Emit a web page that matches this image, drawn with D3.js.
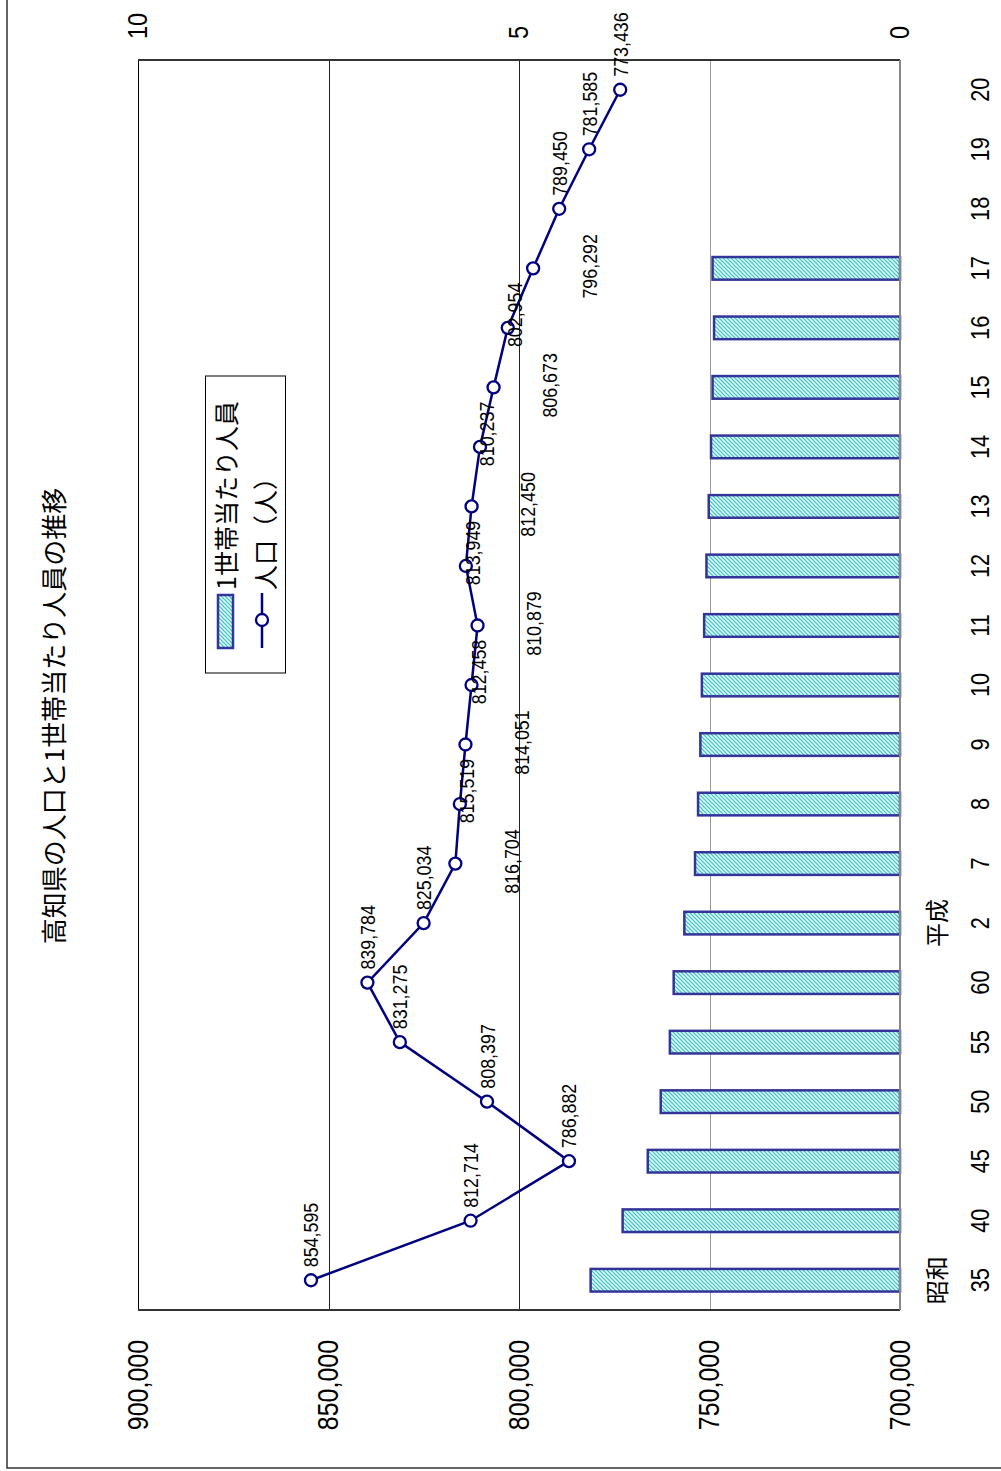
<!DOCTYPE html>
<html>
<head>
<meta charset="utf-8">
<script src="https://cdn.jsdelivr.net/npm/d3@7/dist/d3.min.js"></script>
<style>
  html, body { margin: 0; padding: 0; background: #fff; }
  svg { display: block; }
</style>
</head>
<body>
<div id="chart"></div>
<script>
// ---- data ----
const categories = ["35","40","45","50","55","60","2","7","8","9","10","11","12","13","14","15","16","17","18","19","20"];
const population = [854595, 812714, 786882, 808397, 831275, 839784, 825034, 816704, 815519, 814051, 812458, 810879, 813949, 812450, 810237, 806673, 802954, 796292, 789450, 781585, 773436];
const perHousehold = [4.06, 3.64, 3.31, 3.14, 3.02, 2.97, 2.83, 2.69, 2.65, 2.62, 2.60, 2.57, 2.54, 2.51, 2.48, 2.46, 2.44, 2.46, null, null, null];
const popTicks = [700000, 750000, 800000, 850000, 900000];
const hhTicks = [0, 5, 10];
const eraCats = ["35", "2"];
const eraNames = ["昭和", "平成"];
const labelPlacement = ["r","r","r","r","r","r","r","b","c","b","c","b","c","b","c","b","c","b","r","r","r"];
const titleText = "高知県の人口と1世帯当たり人員の推移";
const seriesNames = ["1世帯当たり人員", "人口（人）"];

// ---- layout (drawn in unrotated frame, then rotated -90deg) ----
const PW = 1001, PH = 1471;
const W = PH, H = PW;
const plot = { left: 161, right: 1411, top: 138, bottom: 900 };
const numFont = "'Liberation Sans', Arial, sans-serif";
const jpFont = "'Noto Sans CJK JP', 'Noto Sans', sans-serif";
const navy = "#000080";
const barStroke = "#333399";

// condense numeric text (narrow, tall digits like the reference)
function condense(sel, k) {
  sel.each(function () {
    const len = this.getComputedTextLength();
    if (len > 0) d3.select(this).attr("textLength", len * k).attr("lengthAdjust", "spacingAndGlyphs");
  });
}

const svg = d3.select("#chart").append("svg").attr("width", PW).attr("height", PH);
const defs = svg.append("defs");
const pat = defs.append("pattern").attr("id", "hatch").attr("patternUnits", "userSpaceOnUse")
  .attr("width", 4).attr("height", 4);
pat.append("rect").attr("width", 4).attr("height", 4).attr("fill", "#fff");
pat.append("path").attr("d", "M-1,1 l2,-2 M0,4 l4,-4 M3,5 l2,-2")
  .attr("stroke", "#33cccc").attr("stroke-width", 1.3);

const g = svg.append("g").attr("transform", `translate(0,${PH}) rotate(-90)`);

// outer frame
g.append("rect").attr("x", 3).attr("y", 7).attr("width", W + 40).attr("height", H + 40)
  .attr("fill", "none").attr("stroke", "#333").attr("stroke-width", 1.5);

const x = d3.scaleBand().domain(categories).range([plot.left, plot.right]).padding(0);
const yPop = d3.scaleLinear().domain([700000, 900000]).range([plot.bottom, plot.top]);
const yHH = d3.scaleLinear().domain([0, 10]).range([plot.bottom, plot.top]);
const bw = x.bandwidth();
const cx = c => x(c) + bw / 2;

// gridlines
g.append("g").selectAll("line").data(popTicks.filter(t => t > 700000 && t < 900000)).join("line")
  .attr("x1", plot.left).attr("x2", plot.right)
  .attr("y1", d => Math.round(yPop(d)) + 0.5).attr("y2", d => Math.round(yPop(d)) + 0.5)
  .attr("stroke", d => d === 750000 ? "#999" : "#222").attr("stroke-width", 1);

// plot frame
g.append("line").attr("x1", plot.left).attr("x2", plot.right).attr("y1", plot.top + 0.5).attr("y2", plot.top + 0.5)
  .attr("stroke", "#000").attr("stroke-width", 1);
g.append("line").attr("x1", plot.left).attr("x2", plot.left).attr("y1", plot.top).attr("y2", plot.bottom)
  .attr("stroke", "#333").attr("stroke-width", 2);
g.append("line").attr("x1", plot.right).attr("x2", plot.right).attr("y1", plot.top).attr("y2", plot.bottom)
  .attr("stroke", "#333").attr("stroke-width", 2);

// bars
const barData = categories.map((c, i) => ({ c, v: perHousehold[i] })).filter(d => d.v != null);
g.append("g").selectAll("rect").data(barData).join("rect")
  .attr("x", d => x(d.c) + bw * 0.31)
  .attr("width", bw * 0.38)
  .attr("y", d => yHH(d.v))
  .attr("height", d => yHH(0) - yHH(d.v))
  .attr("fill", "url(#hatch)")
  .attr("stroke", barStroke).attr("stroke-width", 2.5);

// category axis line
g.append("line").attr("x1", plot.left).attr("x2", plot.right).attr("y1", plot.bottom).attr("y2", plot.bottom)
  .attr("stroke", "#888").attr("stroke-width", 2);

// population line
const popData = categories.map((c, i) => ({ c, v: population[i], p: labelPlacement[i] }));
g.append("path").datum(popData)
  .attr("d", d3.line().x(d => cx(d.c)).y(d => yPop(d.v)))
  .attr("fill", "none").attr("stroke", navy).attr("stroke-width", 2.5);
g.append("g").selectAll("circle").data(popData).join("circle")
  .attr("cx", d => cx(d.c)).attr("cy", d => yPop(d.v)).attr("r", 6)
  .attr("fill", "#fff").attr("stroke", navy).attr("stroke-width", 2.3);

// data labels
const fmt = d3.format(",");
const dl = g.append("g").selectAll("text").data(popData).join("text")
  .attr("x", d => cx(d.c) + (d.p === "r" ? 13 : d.p === "c" ? 13 : 2))
  .attr("y", d => yPop(d.v) + (d.p === "r" ? 0 : d.p === "c" ? 7 : 56))
  .attr("text-anchor", d => d.p === "r" ? "start" : "middle")
  .attr("dominant-baseline", "central")
  .attr("font-family", numFont).attr("font-size", 20.5).attr("fill", "#000")
  .text(d => fmt(d.v));
condense(dl, 0.87);

// left axis (population)
const axL = g.append("g").attr("transform", `translate(${plot.left},0)`)
  .call(d3.axisLeft(yPop).tickValues(popTicks).tickFormat(fmt).tickSize(0).tickPadding(30));
axL.select(".domain").remove();
axL.selectAll("text").attr("font-family", numFont).attr("font-size", 29).attr("fill", "#000");
condense(axL.selectAll("text"), 0.86);

// right axis (per household)
const axR = g.append("g").attr("transform", `translate(${plot.right},0)`)
  .call(d3.axisRight(yHH).tickValues(hhTicks).tickSize(0).tickPadding(21));
axR.select(".domain").remove();
axR.selectAll("text").attr("font-family", numFont).attr("font-size", 27).attr("fill", "#000");
condense(axR.selectAll("text"), 0.87);

// category axis
const axB = g.append("g").attr("transform", `translate(0,${plot.bottom})`)
  .call(d3.axisBottom(x).tickSize(0).tickPadding(71));
axB.select(".domain").remove();
axB.selectAll("text").attr("font-family", numFont).attr("font-size", 25).attr("fill", "#000");
condense(axB.selectAll("text"), 0.87);

// era labels
g.append("g").selectAll("text").data(eraCats.map((c, i) => ({ c, n: eraNames[i] }))).join("text")
  .attr("x", d => cx(d.c)).attr("y", plot.bottom + 35)
  .attr("text-anchor", "middle").attr("dominant-baseline", "central")
  .attr("font-family", jpFont).attr("font-size", 24).attr("fill", "#000")
  .text(d => d.n);

// title
g.append("text").attr("x", 755).attr("y", 52)
  .attr("text-anchor", "middle").attr("dominant-baseline", "central")
  .attr("font-family", jpFont).attr("font-size", 26).attr("fill", "#000")
  .text(titleText);

// legend
const lg = g.append("g");
lg.append("rect").attr("x", 798).attr("y", 205.5).attr("width", 297).attr("height", 80)
  .attr("fill", "#fff").attr("stroke", "#000").attr("stroke-width", 1);
lg.append("rect").attr("x", 823).attr("y", 218).attr("width", 53).attr("height", 15)
  .attr("fill", "url(#hatch)").attr("stroke", barStroke).attr("stroke-width", 2.5);
lg.append("line").attr("x1", 823).attr("x2", 878).attr("y1", 262).attr("y2", 262)
  .attr("stroke", navy).attr("stroke-width", 2.5);
lg.append("circle").attr("cx", 851).attr("cy", 262).attr("r", 6)
  .attr("fill", "#fff").attr("stroke", navy).attr("stroke-width", 2.3);
lg.selectAll("text.lt").data(seriesNames).join("text").attr("class", "lt")
  .attr("x", 881).attr("y", (d, i) => i === 0 ? 225 : 264)
  .attr("dominant-baseline", "central")
  .attr("font-family", jpFont).attr("font-size", 25).attr("fill", "#000")
  .text(d => d);
</script>
</body>
</html>
